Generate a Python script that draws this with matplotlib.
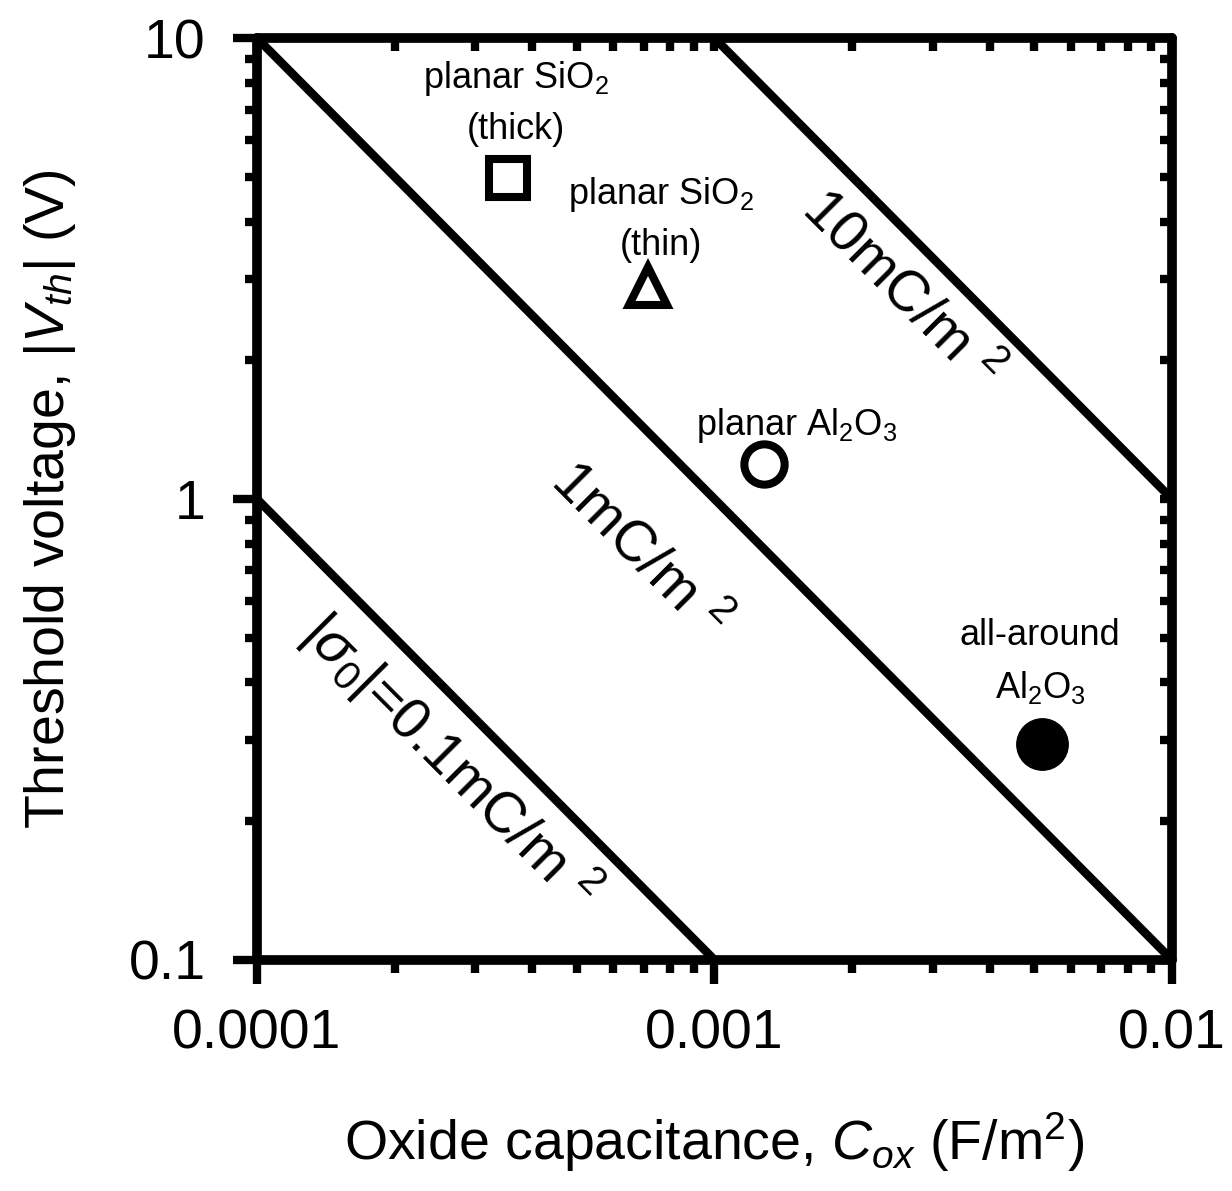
import numpy as np
import matplotlib
matplotlib.use("Agg")
import matplotlib.pyplot as plt

plt.rcParams["font.family"] = ["Liberation Sans", "DejaVu Sans"]
plt.rcParams["mathtext.fontset"] = "custom"
plt.rcParams["mathtext.rm"] = "Liberation Sans"
plt.rcParams["mathtext.it"] = "Liberation Sans:italic"
plt.rcParams["mathtext.sf"] = "Liberation Sans"

# constant-charge lines |sigma0| (C/m^2), V = sigma / Cox
sigmas = [1e-4, 1e-3, 1e-2]
sigma_labels = [r"$|\sigma_0|$=0.1mC/m $^2$", "1mC/m $^2$", "10mC/m $^2$"]
sigma_label_pos = [(2.64e-4, 0.27), (6.8e-4, 0.77), (2.55e-3, 2.84)]

# measured devices
dev_names = ["planar SiO$_2$\n(thick)", "planar SiO$_2$\n(thin)",
             "planar Al$_2$O$_3$", "all-around\nAl$_2$O$_3$"]
dev_cox = [3.54e-4, 7.15e-4, 1.28e-3, 5.2e-3]
dev_vth = [4.98, 2.90, 1.19, 0.294]
dev_label_pos = [(3.68e-4, 7.23), (7.64e-4, 4.05), (1.515e-3, 1.447), (5.15e-3, 0.443)]

xlim = (1e-4, 1e-2)
ylim = (0.1, 10)

fig = plt.figure(figsize=(12.32, 11.91), dpi=100)
ax = fig.add_axes([0.2086, 0.194, 0.7427, 0.774])
ax.set_xscale("log")
ax.set_yscale("log")
ax.set_xlim(*xlim)
ax.set_ylim(*ylim)

cox = np.logspace(-4, -2, 50)
for s, lab, (lx, ly) in zip(sigmas, sigma_labels, sigma_label_pos):
    ax.plot(cox, s / cox, color="black", lw=6.2, solid_capstyle="butt")
    ax.text(lx, ly, lab, rotation=-45, rotation_mode="anchor", ha="center",
            va="center", fontsize=41)

# markers
ax.plot(dev_cox[0], dev_vth[0], "s", ms=28, mfc="white", mec="black", mew=5.8)
ax.plot(dev_cox[1], dev_vth[1], "^", ms=27, mfc="white", mec="black", mew=5.8)
ax.plot(dev_cox[2], dev_vth[2], "o", ms=29, mfc="white", mec="black", mew=5.8)
ax.plot(dev_cox[3], dev_vth[3], "o", ms=37, mfc="black", mec="black", mew=1)

for name, (lx, ly) in zip(dev_names, dev_label_pos):
    ax.text(lx, ly, name, ha="center", va="center", fontsize=26,
            linespacing=1.55, multialignment="center")

for sp in ax.spines.values():
    sp.set_linewidth(7)
    sp.set_capstyle("round")

# bottom / left: ticks outward with labels
ax.tick_params(which="both", direction="out", width=6, labelsize=40)
ax.tick_params(which="major", length=17)
ax.tick_params(which="minor", length=9)
ax.set_xticks([1e-4, 1e-3, 1e-2])
ax.set_xticklabels(["0.0001", "0.001", "0.01"])
ax.set_yticks([0.1, 1, 10])
ax.set_yticklabels(["0.1", "1", "10"])
ax.tick_params(axis="x", pad=18)
ax.tick_params(axis="y", pad=20)

# top / right: ticks inward, no labels
axt = ax.twiny()
axt.set_xscale("log")
axt.set_xlim(*xlim)
axr = ax.twinx()
axr.set_yscale("log")
axr.set_ylim(*ylim)
for a in (axt, axr):
    for sp in a.spines.values():
        sp.set_visible(False)
    a.tick_params(which="both", direction="in", width=6, length=9)
axt.tick_params(which="both", labeltop=False, labelbottom=False, bottom=False, top=True)
axr.tick_params(which="both", labelright=False, labelleft=False, left=False, right=True)

ax.set_xlabel("Oxide capacitance, $C_{ox}$ (F/m$^2$)", fontsize=40, labelpad=36)
ax.set_ylabel("Threshold voltage, |$V_{th}$| (V)", fontsize=40, labelpad=36)

fig.savefig("out.png", dpi=100)
